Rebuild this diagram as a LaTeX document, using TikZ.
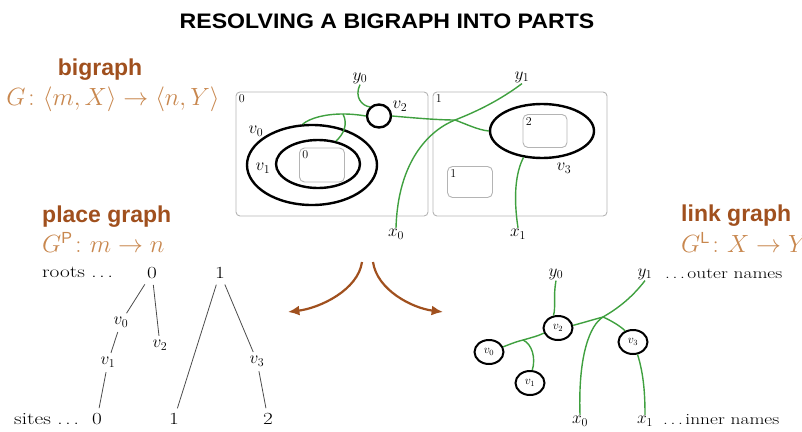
\documentclass[tikz,border=0pt]{standalone}
\usepackage{fontspec}
\setsansfont{Liberation Sans}
\newfontfamily\titlefont[FakeStretch=1.1]{Liberation Sans}
\newfontfamily\wideserif[FakeStretch=1.25]{Latin Modern Roman}
\usepackage{amsmath}
\usetikzlibrary{arrows.meta,positioning,shapes.geometric}
\definecolor{Rust}{HTML}{A0501E}
\definecolor{Tan}{HTML}{C8874E}
\definecolor{Leaf}{HTML}{3FA03F}
\definecolor{Frame}{HTML}{B4B4B4}
\tikzset{
 heading/.style={font=\titlefont\bfseries\fontsize{21}{24}\selectfont},
 part/.style={text=Rust,font=\sffamily\bfseries\fontsize{23}{26}\selectfont,inner sep=0pt},
 sig/.style={text=Tan,font=\fontsize{23}{26}\selectfont,inner sep=0pt},
 region/.style={draw=Frame,rounded corners=4pt,line width=0.9pt,inner sep=0pt},
 site/.style={region,rounded corners=5pt},
 ctrl/.style={draw,ellipse,line width=2.4pt,inner sep=0pt},
 atom/.style={ctrl,line width=2pt,minimum width=29pt,minimum height=24pt,font=\fontsize{12}{12}\selectfont},
 lbl/.style={font=\fontsize{18}{18}\selectfont,inner sep=1pt},
 tag/.style={font=\fontsize{12}{12}\selectfont,inner sep=3pt},
 leaf/.style={font=\wideserif\fontsize{17}{17}\selectfont,inner sep=2pt},
 names/.style={leaf,font=\wideserif\fontsize{15.5}{16}\selectfont,inner sep=1pt},
 link/.style={draw=Leaf,line width=1.4pt},
 tree/.style={draw=black!70,line width=0.8pt,shorten <=4pt,shorten >=3pt},
 split/.style={-{Latex[length=4mm,width=3.5mm]},draw=Rust,line width=2.2pt}
}
\begin{document}
\begin{tikzpicture}[x=1pt,y=-1pt]
\useasboundingbox (0,0) rectangle (802,431);
\clip (0,0) rectangle (802,431);
\node[heading] (title) at (387,21) {RESOLVING A BIGRAPH INTO PARTS};
% captions
\node[part] (bg) at (100,70) {bigraph};
\node[sig] (bgsig) at (113,99) {$G\colon\langle m,X\rangle\to\langle n,Y\rangle$};
\node[part,anchor=west] (pg) at (42,217) {place graph};
\node[sig,anchor=west] (pgsig) at (42,242) {$G^{\mathsf{P}}\colon m\to n$};
\node[part,anchor=west] (lg) at (681,216) {link graph};
\node[sig,anchor=west] (lgsig) at (681,242) {$G^{\mathsf{L}}\colon X\to Y$};
% the bigraph
\node[region,minimum width=192pt,minimum height=124pt] (r0) at (332,154) {};
\node[region,minimum width=174pt,minimum height=124pt] (r1) at (520,154) {};
\node[tag,anchor=north west] (r0n) at (r0.north west) {0};
\node[tag,anchor=north west] (r1n) at (r1.north west) {1};
\node[ctrl,minimum width=130pt,minimum height=80pt] (v0) at (312,165) {};
\node[ctrl,minimum width=84pt,minimum height=48pt] (v1) at (318,164) {};
\node[site,minimum width=45pt,minimum height=34pt] (st0) at (322,165) {};
\node[tag,anchor=north west] (st0n) at (st0.north west) {0};
\node[ctrl,minimum width=24pt,minimum height=23pt] (v2) at (379,116) {};
\node[ctrl,minimum width=104pt,minimum height=54pt] (v3) at (542,131) {};
\node[site,minimum width=44pt,minimum height=33pt] (st2) at (545,131) {};
\node[tag,anchor=north west] (st2n) at (st2.north west) {2};
\node[site,minimum width=45pt,minimum height=31pt] (st1) at (470,182) {};
\node[tag,anchor=north west] (st1n) at (st1.north west) {1};
\node[lbl] (v0n) at (256,131) {$v_0$};
\node[lbl] (v1n) at (263,168) {$v_1$};
\node[lbl] (v2n) at (400,106) {$v_2$};
\node[lbl] (v3n) at (564,168) {$v_3$};
\node[lbl] (y0) at (360,78) {$y_0$};
\node[lbl] (y1) at (522,77) {$y_1$};
\node[lbl] (x0) at (396,234) {$x_0$};
\node[lbl] (x1) at (518,234) {$x_1$};
\coordinate (ja) at (343,114);
\coordinate (jb) at (455,120);
\draw[link] (y0.south) .. controls (354,97) and (362,106) .. (v2.135);
\draw[link] (v2.west) .. controls (360,115) and (352,114) .. (ja) .. controls (325,114) and (310,118) .. (v0.103);
\draw[link] (ja) .. controls (348,124) and (344,134) .. (v1.52);
\draw[link] (v2.east) .. controls (415,118) and (438,120) .. (jb);
\draw[link] (y1.south) .. controls (500,100) and (478,111) .. (jb) .. controls (430,130) and (398,160) .. (x0.north);
\draw[link] (jb) .. controls (466,124) and (478,130) .. (v3.west);
\draw[link] (x1.north) .. controls (513,195) and (516,172) .. (v3.235);
% split arrows
\coordinate (forkl) at (362,262);
\coordinate (forkr) at (373,262);
\coordinate (toplace) at (288,312);
\coordinate (tolink) at (443,312);
\draw[split] (forkl) .. controls (358,290) and (320,308) .. (toplace);
\draw[split] (forkr) .. controls (377,290) and (412,308) .. (tolink);
% place graph
\node[leaf,anchor=west] (roots) at (40,272) {roots .\,.\,.};
\node[leaf,anchor=west] (sites) at (12,419) {sites .\,.\,.};
\node[leaf] (p0) at (152,273) {0};
\node[leaf] (p1) at (220,273) {1};
\node[lbl] (pv0) at (121,322) {$v_0$};
\node[lbl] (pv2) at (160,345) {$v_2$};
\node[lbl] (pv1) at (108,362) {$v_1$};
\node[lbl] (pv3) at (257,361) {$v_3$};
\node[leaf] (s0) at (97,419) {0};
\node[leaf] (s1) at (174,419) {1};
\node[leaf] (s2) at (268,419) {2};
\foreach \a/\b in {p0/pv0,p0/pv2,pv0/pv1,pv1/s0,p1/s1,p1/pv3,pv3/s2} \draw[tree] (\a)--(\b);
% link graph
\node[lbl] (ly0) at (556,274) {$y_0$};
\node[lbl] (ly1) at (645,274) {$y_1$};
\node[names,anchor=west] (outer) at (664,274) {.\,.\,.\,outer names};
\node[lbl] (lx0) at (580,421) {$x_0$};
\node[lbl] (lx1) at (645,421) {$x_1$};
\node[names,anchor=west] (inner) at (662,420) {.\,.\,.\,inner names};
\foreach \n/\x/\y/\k in {lv0/489/352/0,lv1/530/383/1,lv2/558/328/2,lv3/633/342/3}
  \node[atom] (\n) at (\x,\y) {$v_{\k}$};
\coordinate (lja) at (523,340);
\coordinate (ljb) at (603,317);
\draw[link] (ly0.south) .. controls (553,298) and (556,306) .. (lv2.110);
\draw[link] (lv2.200) .. controls (538,336) and (530,338) .. (lja) .. controls (515,342) and (508,345) .. (lv0.20);
\draw[link] (lja) .. controls (532,344) and (536,358) .. (lv1.80);
\draw[link] (lv2.10) .. controls (582,323) and (592,320) .. (ljb);
\draw[link] (ly1.south) .. controls (630,300) and (615,310) .. (ljb) .. controls (590,325) and (578,355) .. (lx0.north);
\draw[link] (ljb) .. controls (612,321) and (620,326) .. (lv3.125);
\draw[link] (lx1.north) .. controls (645,390) and (643,372) .. (lv3.-70);
\end{tikzpicture}
\end{document}
